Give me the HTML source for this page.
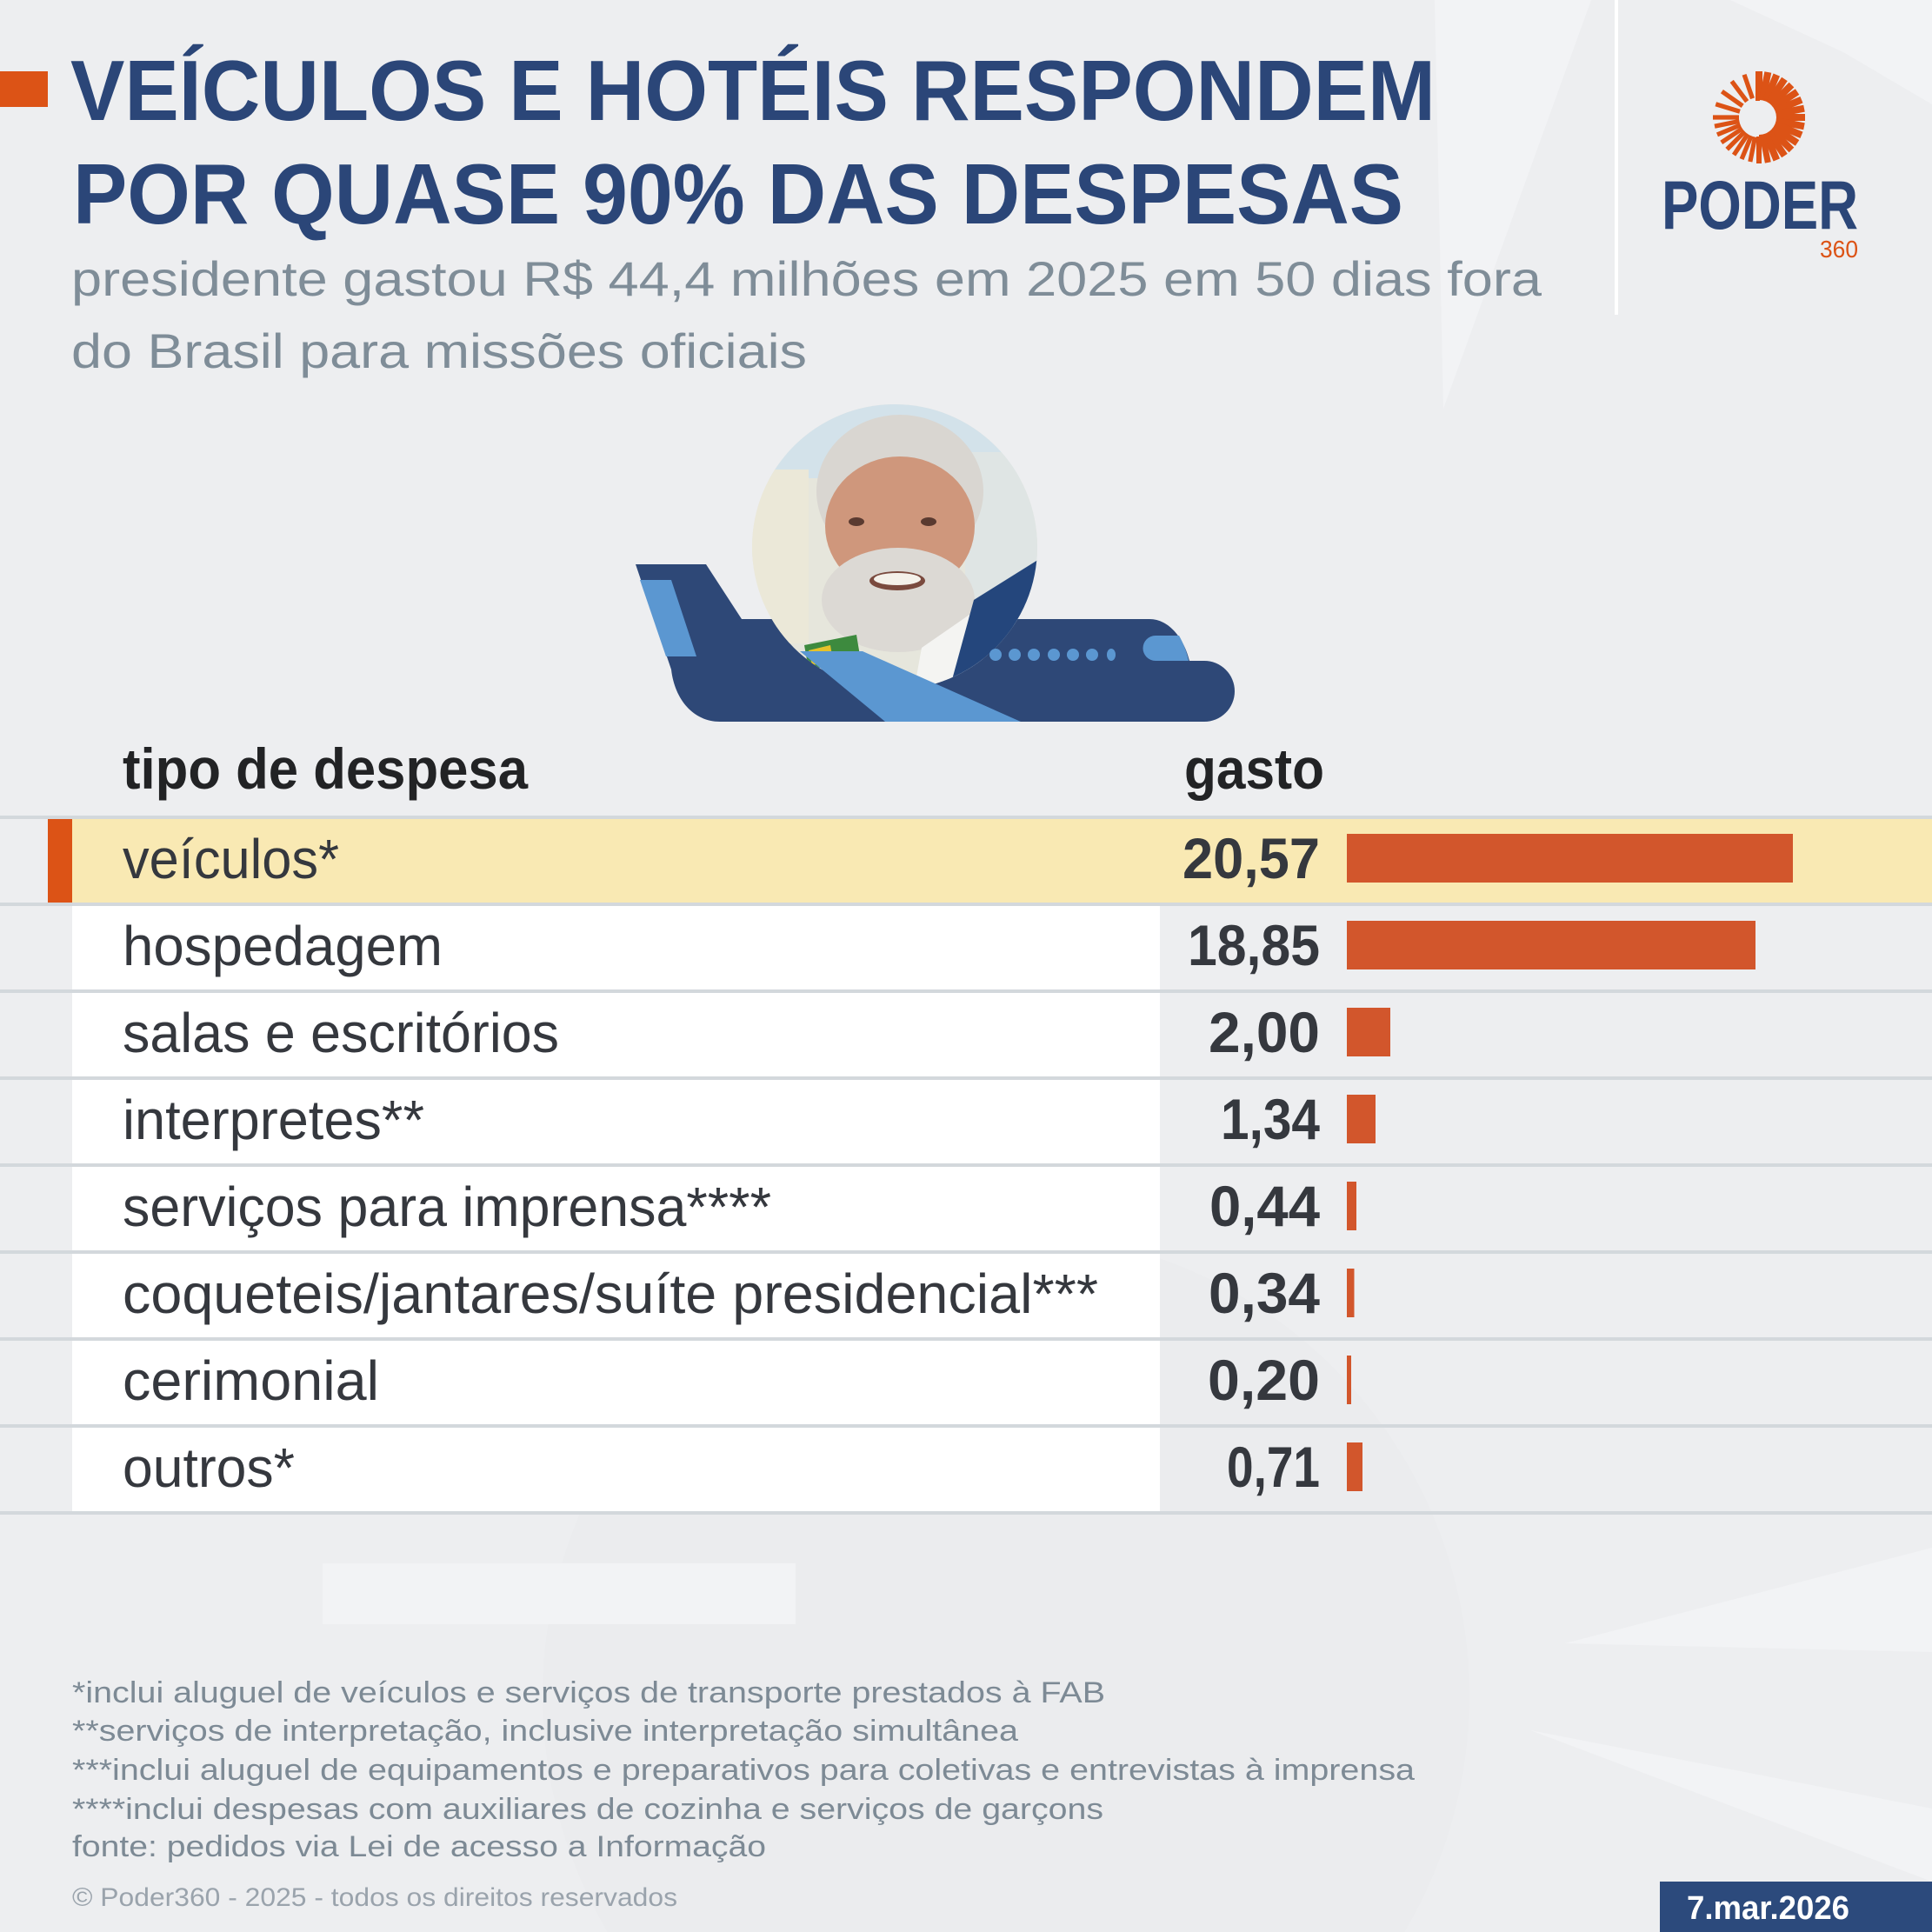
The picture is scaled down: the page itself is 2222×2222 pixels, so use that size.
<!DOCTYPE html>
<html>
<head>
<meta charset="utf-8">
<style>
html,body{margin:0;padding:0;background:#edeef0;width:2222px;height:2222px;overflow:hidden;}
svg{display:block;position:absolute;left:0;top:0;}
text{font-family:"Liberation Sans",sans-serif;}
</style>
</head>
<body>
<svg width="2222" height="2222" viewBox="0 0 2222 2222" xmlns="http://www.w3.org/2000/svg">
<defs>
  <clipPath id="pc"><circle cx="1029" cy="629" r="164"/></clipPath>
</defs>
<!-- background -->
<rect x="0" y="0" width="2222" height="2222" fill="#edeef0"/>
<path d="M698.6,2222 A533,533 0 1 1 1615.4,2222 Z" fill="#ebecee"/>
<polygon points="1650,0 1830,0 1660,470" fill="#f2f3f5"/>
<polygon points="1990,0 2222,0 2222,120 2120,60" fill="#f2f3f5"/>
<polygon points="371,1798 915,1798 915,1868 371,1868" fill="#f2f3f5"/>
<polygon points="1800,1890 2222,1780 2222,1900" fill="#f2f3f5"/>
<polygon points="1760,1990 2222,2080 2222,2164" fill="#f2f3f5"/>

<!-- vertical white divider -->
<rect x="1857" y="0" width="4" height="362" fill="#ffffff"/>

<!-- title -->
<rect x="0" y="82" width="55" height="41" fill="#dc5316"/>
<text x="81" y="138" font-size="98" font-weight="bold" fill="#2b4678" textLength="1570" lengthAdjust="spacingAndGlyphs">VEÍCULOS E HOTÉIS RESPONDEM</text>
<text x="84" y="257" font-size="98" font-weight="bold" fill="#2b4678" textLength="1530" lengthAdjust="spacingAndGlyphs">POR QUASE 90% DAS DESPESAS</text>
<text x="82" y="340" font-size="56" fill="#7f8d98" textLength="1691" lengthAdjust="spacingAndGlyphs">presidente gastou R$ 44,4 milhões em 2025 em 50 dias fora</text>
<text x="82" y="423" font-size="56" fill="#7f8d98" textLength="846" lengthAdjust="spacingAndGlyphs">do Brasil para missões oficiais</text>

<!-- logo -->
<g fill="#dc5316">
  <path d="M2023,115 A20,20 0 0 1 2023,155 L2023,165 A30,30 0 0 0 2023,105 Z"/>
  <rect x="2019" y="82" width="5" height="34"/>
  <g transform="translate(2023,135)">
    <rect x="-4" y="-53" width="8" height="31" transform="rotate(0)"/>
    <rect x="-4" y="-53" width="8" height="31" transform="rotate(11.25)"/>
    <rect x="-4" y="-53" width="8" height="31" transform="rotate(22.5)"/>
    <rect x="-4" y="-53" width="8" height="31" transform="rotate(33.75)"/>
    <rect x="-4" y="-53" width="8" height="31" transform="rotate(45)"/>
    <rect x="-4" y="-53" width="8" height="31" transform="rotate(56.25)"/>
    <rect x="-4" y="-53" width="8" height="31" transform="rotate(67.5)"/>
    <rect x="-4" y="-53" width="8" height="31" transform="rotate(78.75)"/>
    <rect x="-4" y="-53" width="8" height="31" transform="rotate(90)"/>
    <rect x="-4" y="-53" width="8" height="31" transform="rotate(101.25)"/>
    <rect x="-4" y="-53" width="8" height="31" transform="rotate(112.5)"/>
    <rect x="-4" y="-53" width="8" height="31" transform="rotate(123.75)"/>
    <rect x="-4" y="-53" width="8" height="31" transform="rotate(135)"/>
    <rect x="-4" y="-53" width="8" height="31" transform="rotate(146.25)"/>
    <rect x="-4" y="-53" width="8" height="31" transform="rotate(157.5)"/>
    <rect x="-3.5" y="-53" width="7" height="31" transform="rotate(168.75)"/>
    <rect x="-3" y="-53" width="6" height="31" transform="rotate(180)"/>
    <rect x="-2.6" y="-52" width="5.2" height="29" transform="rotate(191.25)"/>
    <rect x="-2.6" y="-52" width="5.2" height="29" transform="rotate(202.5)"/>
    <rect x="-2.6" y="-52" width="5.2" height="29" transform="rotate(213.75)"/>
    <rect x="-2.6" y="-52" width="5.2" height="29" transform="rotate(225)"/>
    <rect x="-2.6" y="-52" width="5.2" height="29" transform="rotate(236.25)"/>
    <rect x="-2.6" y="-52" width="5.2" height="29" transform="rotate(247.5)"/>
    <rect x="-2.6" y="-52" width="5.2" height="29" transform="rotate(258.75)"/>
    <rect x="-2.6" y="-53" width="5.2" height="30" transform="rotate(270)"/>
    <rect x="-2.6" y="-52" width="5.2" height="29" transform="rotate(287)"/>
    <rect x="-2.6" y="-52" width="5.2" height="29" transform="rotate(305)"/>
    <rect x="-2.6" y="-52" width="5.2" height="29" transform="rotate(323)"/>
    <rect x="-2.6" y="-52" width="5.2" height="29" transform="rotate(341)"/>
  </g>
</g>
<text x="1911" y="263" font-size="79" font-weight="bold" fill="#2b4678" textLength="226" lengthAdjust="spacingAndGlyphs">PODER</text>
<text x="2093" y="296" font-size="28" fill="#dc5316" textLength="44" lengthAdjust="spacingAndGlyphs">360</text>

<!-- plane body -->
<path d="M731,649 L812,649 L853,712 L1322,712 C1345,712 1362,735 1368,760 L1385,760 A35,35 0 0 1 1385,830 L828,830 C798,830 776,805 772,770 Z" fill="#2e4877"/>

<!-- portrait -->
<g clip-path="url(#pc)">
  <rect x="860" y="460" width="340" height="340" fill="#e6e6dc"/>
  <rect x="860" y="460" width="340" height="90" fill="#d3e2ea"/>
  <rect x="1110" y="520" width="90" height="200" fill="#dfe5e4"/>
  <rect x="860" y="540" width="70" height="200" fill="#ebe8d8"/>
  <ellipse cx="1035" cy="565" rx="96" ry="88" fill="#d9d6d1"/>
  <ellipse cx="1035" cy="605" rx="86" ry="80" fill="#cf977c"/>
  <ellipse cx="1033" cy="690" rx="88" ry="60" fill="#dcd9d4"/>
  <ellipse cx="1032" cy="668" rx="32" ry="11" fill="#7a4a3e"/>
  <ellipse cx="1032" cy="666" rx="27" ry="7" fill="#f4f1ea"/>
  <ellipse cx="985" cy="600" rx="9" ry="5" fill="#5a3a30"/>
  <ellipse cx="1068" cy="600" rx="9" ry="5" fill="#5a3a30"/>
  <polygon points="1060,745 1125,700 1135,800 1050,800" fill="#f4f4f2"/>
  <polygon points="1120,690 1200,640 1200,800 1090,800" fill="#24467c"/>
  <polygon points="925,742 985,730 990,760 930,770" fill="#3d8a3e"/>
  <polygon points="930,748 955,742 958,760 934,765" fill="#e6c22a"/>
</g>

<!-- plane details -->
<polygon points="736,667 772,667 801,755 766,755" fill="#5b97d1"/>
<polygon points="920,749 992,749 1174,830 1018,830" fill="#5b97d1"/>
<path d="M1329,731 L1356,731 C1361,740 1365,750 1367,760 L1329,760 A14.5,14.5 0 0 1 1329,731 Z" fill="#5b97d1"/>
<g fill="#5b97d1">
  <ellipse cx="1145" cy="753" rx="7" ry="7"/>
  <ellipse cx="1167" cy="753" rx="7" ry="7"/>
  <ellipse cx="1189" cy="753" rx="7" ry="7"/>
  <ellipse cx="1212" cy="753" rx="7" ry="7"/>
  <ellipse cx="1234" cy="753" rx="7" ry="7"/>
  <ellipse cx="1256" cy="753" rx="7" ry="7"/>
  <ellipse cx="1278" cy="753" rx="5" ry="7"/>
</g>

<!-- table -->
<text x="141" y="907" font-size="66" font-weight="bold" fill="#222325" textLength="466" lengthAdjust="spacingAndGlyphs">tipo de despesa</text>
<text x="1362" y="907" font-size="66" font-weight="bold" fill="#222325" textLength="161" lengthAdjust="spacingAndGlyphs">gasto</text>

<rect x="83" y="942" width="2139" height="96" fill="#f9e9b3"/>
<rect x="55" y="942" width="28" height="96" fill="#dc5316"/>
<rect x="83" y="1042" width="1251" height="696" fill="#ffffff"/>

<g fill="#d3d8dc">
  <rect x="0" y="938" width="2222" height="4"/>
  <rect x="0" y="1038" width="2222" height="4"/>
  <rect x="0" y="1138" width="2222" height="4"/>
  <rect x="0" y="1238" width="2222" height="4"/>
  <rect x="0" y="1338" width="2222" height="4"/>
  <rect x="0" y="1438" width="2222" height="4"/>
  <rect x="0" y="1538" width="2222" height="4"/>
  <rect x="0" y="1638" width="2222" height="4"/>
  <rect x="0" y="1738" width="2222" height="4"/>
</g>

<g font-size="64" fill="#35383e">
  <text x="141" y="1010" textLength="249" lengthAdjust="spacingAndGlyphs">veículos*</text>
  <text x="141" y="1110" textLength="368" lengthAdjust="spacingAndGlyphs">hospedagem</text>
  <text x="141" y="1210" textLength="502" lengthAdjust="spacingAndGlyphs">salas e escritórios</text>
  <text x="141" y="1310" textLength="347" lengthAdjust="spacingAndGlyphs">interpretes**</text>
  <text x="141" y="1410" textLength="746" lengthAdjust="spacingAndGlyphs">serviços para imprensa****</text>
  <text x="141" y="1510" textLength="1122" lengthAdjust="spacingAndGlyphs">coqueteis/jantares/suíte presidencial***</text>
  <text x="141" y="1610" textLength="295" lengthAdjust="spacingAndGlyphs">cerimonial</text>
  <text x="141" y="1710" textLength="198" lengthAdjust="spacingAndGlyphs">outros*</text>
</g>

<g font-size="66" font-weight="bold" fill="#35383e">
  <text x="1360" y="1010" textLength="158" lengthAdjust="spacingAndGlyphs">20,57</text>
  <text x="1366" y="1110" textLength="152" lengthAdjust="spacingAndGlyphs">18,85</text>
  <text x="1390" y="1210" textLength="128" lengthAdjust="spacingAndGlyphs">2,00</text>
  <text x="1404" y="1310" textLength="114" lengthAdjust="spacingAndGlyphs">1,34</text>
  <text x="1391" y="1410" textLength="127" lengthAdjust="spacingAndGlyphs">0,44</text>
  <text x="1390" y="1510" textLength="128" lengthAdjust="spacingAndGlyphs">0,34</text>
  <text x="1389" y="1610" textLength="129" lengthAdjust="spacingAndGlyphs">0,20</text>
  <text x="1411" y="1710" textLength="107" lengthAdjust="spacingAndGlyphs">0,71</text>
</g>

<g fill="#d2562c">
  <rect x="1549" y="959" width="513" height="56"/>
  <rect x="1549" y="1059" width="470" height="56"/>
  <rect x="1549" y="1159" width="50" height="56"/>
  <rect x="1549" y="1259" width="33" height="56"/>
  <rect x="1549" y="1359" width="11" height="56"/>
  <rect x="1549" y="1459" width="8.5" height="56"/>
  <rect x="1549" y="1559" width="5" height="56"/>
  <rect x="1549" y="1659" width="18" height="56"/>
</g>

<!-- footnotes -->
<g font-size="34" fill="#7d8a95">
  <text x="83" y="1958" textLength="1188" lengthAdjust="spacingAndGlyphs">*inclui aluguel de veículos e serviços de transporte prestados à FAB</text>
  <text x="83" y="2002" textLength="1088" lengthAdjust="spacingAndGlyphs">**serviços de interpretação, inclusive interpretação simultânea</text>
  <text x="83" y="2047" textLength="1544" lengthAdjust="spacingAndGlyphs">***inclui aluguel de equipamentos e preparativos para coletivas e entrevistas à imprensa</text>
  <text x="83" y="2092" textLength="1186" lengthAdjust="spacingAndGlyphs">****inclui despesas com auxiliares de cozinha e serviços de garçons</text>
  <text x="83" y="2135" textLength="798" lengthAdjust="spacingAndGlyphs">fonte: pedidos via Lei de acesso a Informação</text>
</g>
<text x="83" y="2192" font-size="30" fill="#9aa3ac" textLength="696" lengthAdjust="spacingAndGlyphs">© Poder360 - 2025 - todos os direitos reservados</text>

<!-- date box -->
<rect x="1909" y="2164" width="313" height="58" fill="#2c4a7c"/>
<text x="1940" y="2207" font-size="38" font-weight="bold" fill="#ffffff" textLength="187" lengthAdjust="spacingAndGlyphs">7.mar.2026</text>
</svg>
</body>
</html>
